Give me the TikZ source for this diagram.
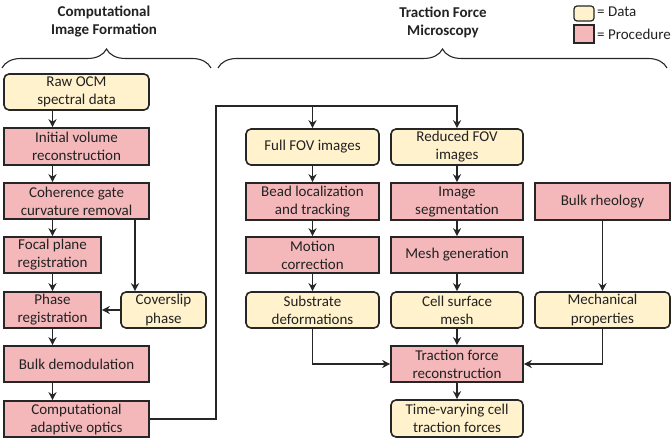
\documentclass[tikz,border=0pt]{standalone}
\usepackage{fontspec}
\setmainfont{Carlito}
\usetikzlibrary{arrows.meta,decorations.pathreplacing}
\definecolor{datac}{HTML}{FFF2CC}
\definecolor{procc}{HTML}{F4B8BB}
\definecolor{linec}{HTML}{262626}
\definecolor{textc}{HTML}{222222}
\begin{document}
\begin{tikzpicture}[x=1pt,y=-1pt,
  font=\fontsize{15}{18}\selectfont,
  every node/.style={text=textc},
  basebox/.style={draw=linec,line width=1.6pt,align=center,inner sep=0pt,minimum height=36pt},
  databox/.style={basebox,fill=datac,rounded corners=5pt},
  procbox/.style={basebox,fill=procc},
  arr/.style={draw=linec,line width=1.5pt,-{Stealth[length=8pt,width=8pt,inset=2.5pt]}},
  bracestyle/.style={draw=linec,line width=1.1pt,decorate,decoration={brace,amplitude=19pt}},
  title/.style={font=\fontsize{15}{18}\selectfont\bfseries,align=center}]
\useasboundingbox (0,0) rectangle (671,438);
% titles
\node[title] (t1) at (104,22) {Computational\\Image Formation};
\node[title] (t2) at (443,22) {Traction Force\\Microscopy};
\draw[bracestyle] (2,68) -- (211,68);
\draw[bracestyle] (218,68) -- (667,68);
% legend
\node[databox,minimum width=20pt,minimum height=15pt,rounded corners=3pt,line width=1.2pt] (ld) at (584,13.5) {};
\node[procbox,minimum width=20pt,minimum height=18pt,line width=1.2pt] (lp) at (584,34) {};
\node[anchor=west,inner sep=0pt] (ldt) at (597,12) {= Data};
\node[anchor=west,inner sep=0pt] (lpt) at (597,34) {= Procedure};
% left column
\node[databox,minimum width=145pt] (raw) at (76.5,92) {Raw OCM\\spectral data};
\node[procbox,minimum width=145pt,minimum height=37pt] (init) at (76.5,146.5) {Initial volume\\reconstruction};
\node[procbox,minimum width=145pt] (coh) at (76.5,201) {Coherence gate\\curvature removal};
\node[procbox,minimum width=97pt] (focal) at (52.5,255) {Focal plane\\registration};
\node[procbox,minimum width=97pt] (phase) at (52.5,310) {Phase\\registration};
\node[databox,minimum width=85pt] (cover) at (163.5,310) {Coverslip\\phase};
\node[procbox,minimum width=145pt] (bulk) at (76.5,364) {Bulk demodulation};
\node[procbox,minimum width=145pt] (cao) at (76.5,419) {Computational\\adaptive optics};
% right part
\node[databox,minimum width=133pt] (full) at (312.5,147) {Full FOV images};
\node[databox,minimum width=132pt] (red) at (457,147) {Reduced FOV\\images};
\node[procbox,minimum width=133pt,minimum height=37pt] (bead) at (312.5,201.5) {Bead localization\\and tracking};
\node[procbox,minimum width=132pt,minimum height=37pt] (seg) at (457,201.5) {Image\\segmentation};
\node[procbox,minimum width=135pt,minimum height=37pt] (rheo) at (602.5,201.5) {Bulk rheology};
\node[procbox,minimum width=133pt] (motion) at (312.5,255) {Motion\\correction};
\node[procbox,minimum width=132pt] (mesh) at (457,255) {Mesh generation};
\node[databox,minimum width=133pt] (sub) at (312.5,310) {Substrate\\deformations};
\node[databox,minimum width=132pt] (cell) at (457,310) {Cell surface\\mesh};
\node[databox,minimum width=135pt] (mech) at (602.5,310) {Mechanical\\properties};
\node[procbox,minimum width=132pt] (tfr) at (457,364) {Traction force\\reconstruction};
\node[databox,minimum width=132pt,minimum height=37pt] (tv) at (457,418.5) {Time-varying cell\\traction forces};
% left connectors
\draw[arr] (raw.south -| focal) -- (init.north -| focal);
\draw[arr] (init.south -| focal) -- (coh.north -| focal);
\draw[arr] (coh.south -| focal) -- (focal.north);
\draw[arr] (focal.south) -- (phase.north);
\draw[arr] (phase.south) -- (bulk.north -| phase);
\draw[arr] (bulk.south -| phase) -- (cao.north -| phase);
\coordinate (cx) at (135,0);
\draw[arr] (coh.south -| cx) -- (cover.north -| cx);
\draw[arr] (cover.west) -- (phase.east);
% cross connector
\coordinate (j1) at (216,106);
\draw[arr] (cao.east) -| (j1) -| (red.north);
\draw[arr] (full.north |- j1) -- (full.north);
% right connectors
\draw[arr] (full.south) -- (bead.north);
\draw[arr] (bead.south) -- (motion.north);
\draw[arr] (motion.south) -- (sub.north);
\draw[arr] (red.south) -- (seg.north);
\draw[arr] (seg.south) -- (mesh.north);
\draw[arr] (mesh.south) -- (cell.north);
\draw[arr] (cell.south) -- (tfr.north);
\draw[arr] (tfr.south) -- (tv.north);
\draw[arr] (rheo.south) -- (mech.north);
\draw[arr] (sub.south) |- (tfr.west);
\draw[arr] (mech.south) |- (tfr.east);
\end{tikzpicture}
\end{document}
